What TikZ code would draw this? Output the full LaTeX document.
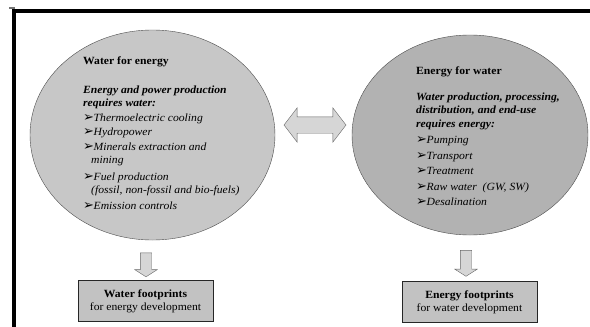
\documentclass[tikz,border=0pt]{standalone}
\usepackage{fontspec}
\setmainfont[FakeStretch=1.06]{Liberation Serif}
\newfontfamily\dejavu{DejaVu Sans}
\usetikzlibrary{shapes.geometric}
\usetikzlibrary{shapes.arrows}
\usetikzlibrary{calc}
\tikzset{blob/.style={draw=black!70, ellipse, inner sep=0pt}}
\tikzset{txt/.style={anchor=north west, align=left, inner sep=0pt, font=\fontsize{11}{13.5}\selectfont}}
\tikzset{fbox/.style={draw=black!85, fill=black!24, minimum width=135pt, minimum height=41pt, align=center, inner sep=0pt, font=\fontsize{11}{13}\selectfont}}
\tikzset{fat/.style={draw=black!60, fill=black!16, inner xsep=0pt}}
\newcommand{\itm}{\makebox[10.5pt][l]{\dejavu\fontsize{13}{10}\selectfont ➢}}

\begin{document}
\begin{tikzpicture}[x=1pt,y=-1pt]
\useasboundingbox (0,0) rectangle (590,327);

% frame
\fill[black!55] (9,7) rectangle (15,9);
\draw[line width=3.5pt] (14,327) -- (14,11) -- (590,11);

\node[blob, fill=black!22, minimum width=245pt, minimum height=210pt] (wfe) at (152.5,135) {};
\node[blob, fill=black!30, minimum width=236pt, minimum height=200pt] (efw) at (470,135) {};

\node[txt] (wfetxt) at ($(wfe.center) + (-69.5,-78)$) {%
\textbf{Water for energy}\\[15pt]
\textbf{\textit{Energy and power production}}\\
\textbf{\textit{requires water:}}\\[1pt]
\itm\textit{Thermoelectric cooling}\\[1pt]
\itm\textit{Hydropower}\\[1pt]
\itm\textit{Minerals extraction and}\\
\hspace*{8pt}\textit{mining}\\[3pt]
\itm\textit{Fuel production}\\
\hspace*{8pt}\textit{(fossil, non-fossil and bio-fuels)}\\[2pt]
\itm\textit{Emission controls}};

\node[txt] (efwtxt) at ($(efw.center) + (-54,-68)$) {%
\textbf{Energy for water}\\[12pt]
\textbf{\textit{Water production, processing,}}\\
\textbf{\textit{distribution, and end-use}}\\
\textbf{\textit{requires energy:}}\\[3pt]
\itm\textit{Pumping}\\[2pt]
\itm\textit{Transport}\\[2pt]
\itm\textit{Treatment}\\[2pt]
\itm\textit{Raw water\ \ (GW, SW)}\\[2pt]
\itm\textit{Desalination}};

\node[fat, double arrow, inner ysep=8pt, double arrow head extend=9pt,
  double arrow tip angle=105, minimum height=62pt] (link) at (315,125) {};

\node[fbox] (wbox) at (145.5,301) {\textbf{Water footprints}\\for energy development};
\node[fbox] (ebox) at (469.5,302) {\textbf{Energy footprints}\\for water development};

\node[fat, single arrow, rotate=-90, inner ysep=5.5pt, single arrow head extend=5.5pt,
  single arrow tip angle=115, minimum height=24pt] (wdown) at (146,263) {};
\node[fat, single arrow, rotate=-90, inner ysep=5.5pt, single arrow head extend=5.5pt,
  single arrow tip angle=115, minimum height=26pt] (edown) at (466,261.5) {};

\end{tikzpicture}
\end{document}
